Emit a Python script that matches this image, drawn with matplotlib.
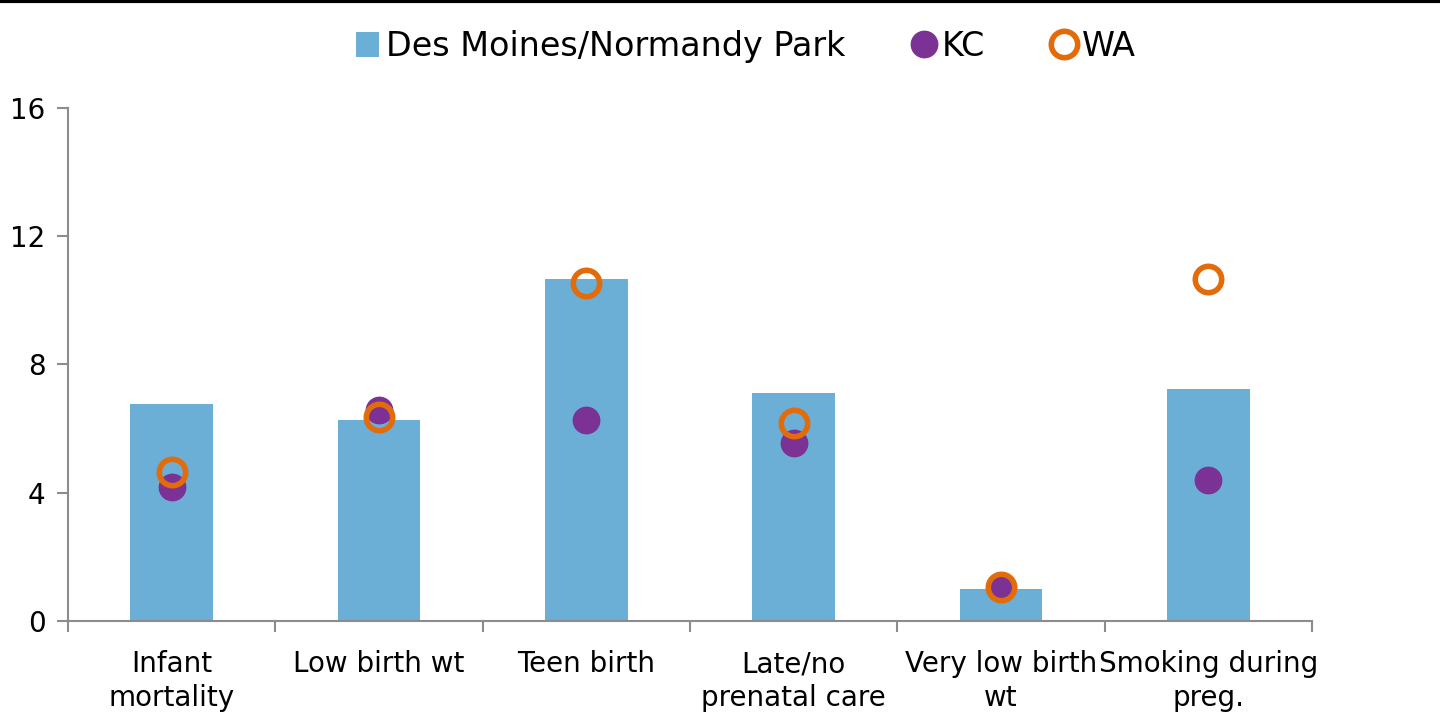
import numpy as np
import matplotlib.pyplot as plt
from matplotlib.lines import Line2D
from matplotlib.patches import Patch

categories = ["Infant\nmortality", "Low birth wt", "Teen birth",
              "Late/no\nprenatal care", "Very low birth\nwt", "Smoking during\npreg."]
area_vals = [6.77, 6.27, 10.67, 7.11, 1.0, 7.24]
kc_vals = [4.18, 6.58, 6.27, 5.55, 1.03, 4.40]
wa_vals = [4.65, 6.36, 10.54, 6.18, 1.06, 10.67]

bar_color = "#6BAED6"
kc_color = "#7B3294"
wa_color = "#E36C0A"
axis_gray = "#8C8C8C"

plt.rcParams['font.family'] = ['DejaVu Sans']

fig = plt.figure(figsize=(14.4, 7.19), dpi=100)
ax = fig.add_axes([0.0472, 0.1363, 0.8639, 0.7135])

x = np.arange(len(categories))
ax.bar(x, area_vals, width=0.4, color=bar_color, zorder=2)
ax.plot(x, kc_vals, 'o', ms=19, color=kc_color, mec=kc_color, zorder=3)
ax.plot(x, wa_vals, 'o', ms=19, mfc='none', mec=wa_color, mew=4, zorder=4)

ax.set_xlim(-0.5, len(categories) - 0.5)
ax.set_ylim(0, 16)
ax.set_yticks([0, 4, 8, 12, 16])
ax.tick_params(axis='y', labelsize=20, length=8, color=axis_gray, width=1.5, pad=8)

# category labels centered, ticks between categories
ax.set_xticks(x)
ax.set_xticklabels(categories, fontsize=20, linespacing=1.25)
ax.tick_params(axis='x', which='major', length=0, pad=21)
ax.set_xticks(np.arange(-0.5, len(categories)), minor=True)
ax.tick_params(axis='x', which='minor', length=8, color=axis_gray, width=1.5)

for s in ['top', 'right']:
    ax.spines[s].set_visible(False)
for s in ['left', 'bottom']:
    ax.spines[s].set_color(axis_gray)
    ax.spines[s].set_linewidth(1.5)

handles = [
    Patch(facecolor=bar_color, edgecolor='none'),
    Line2D([], [], marker='o', ls='none', ms=19, color=kc_color),
    Line2D([], [], marker='o', ls='none', ms=19, mfc='none', mec=wa_color, mew=4),
]
fig.legend(handles, ["Des Moines/Normandy Park", "KC", "WA"], loc='center',
           bbox_to_anchor=(0.518, 0.935), ncol=3, frameon=False, fontsize=24,
           handlelength=0.7, handleheight=0.8, handletextpad=0.2, columnspacing=2.0)

# top border line
fig.add_artist(Line2D([0, 1], [0.998, 0.998], transform=fig.transFigure, color='black', lw=3))

fig.savefig("out.png", dpi=100)
